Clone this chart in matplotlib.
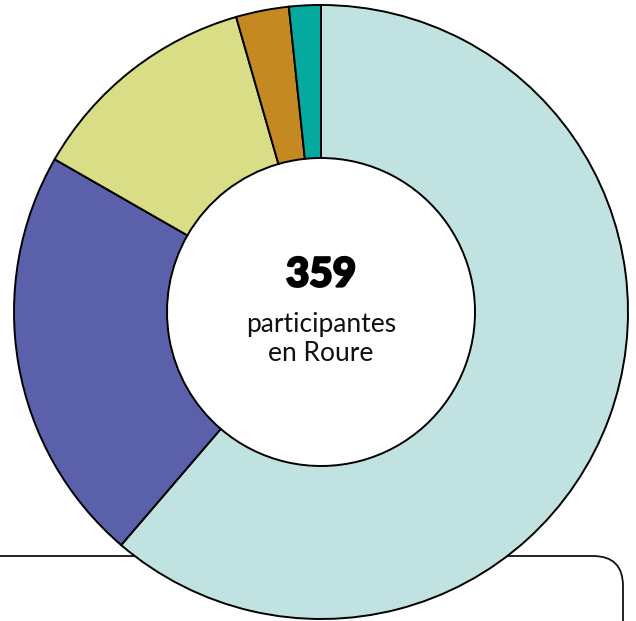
import matplotlib.pyplot as plt
import matplotlib.patheffects as pe
from matplotlib.patches import FancyBboxPatch

plt.rcParams["font.family"] = ["Lato", "DejaVu Sans"]

# Participants by group (read from the donut)
labels = ["Grup 1", "Grup 2", "Grup 3", "Grup 4", "Grup 5"]
values = [220, 79, 44, 10, 6]
colors = ["#c0e3e1", "#5a61aa", "#d9dd85", "#c48a21", "#06a99d"]
total_label = "359"
sub_label = "participantes\nen Roure"

W, H = 636, 621
fig = plt.figure(figsize=(W / 100, H / 100), dpi=100)
ax = fig.add_axes([0, 0, 1, 1])

# Rounded box behind the donut (legend frame, partly cut off)
box = FancyBboxPatch((-60, -60), 683, H - 556 + 60,
                     boxstyle="round,pad=0,rounding_size=30",
                     facecolor="white", edgecolor="#111111", linewidth=1.3, zorder=1)
ax.add_patch(box)

wedges, _ = ax.pie(values, colors=colors, startangle=90, counterclock=False,
                   center=(321, H - 312), radius=307,
                   wedgeprops=dict(width=153, edgecolor="black", linewidth=1.4))
for w in wedges:
    w.set_zorder(2)

# heavier look for the total (Lato Black)
ax.text(321, H - 275, total_label, ha="center", va="center",
        fontsize=29, fontweight="black", color="black", zorder=3,
        path_effects=[pe.withStroke(linewidth=1.6, foreground="black")])
ax.text(321, H - 339, sub_label, ha="center", va="center",
        fontsize=19, color="#111111", linespacing=1.2, zorder=3)

ax.set_xlim(0, W)
ax.set_ylim(0, H)
ax.set_aspect("equal")
ax.axis("off")

fig.savefig("out.png", dpi=100, facecolor="white")
